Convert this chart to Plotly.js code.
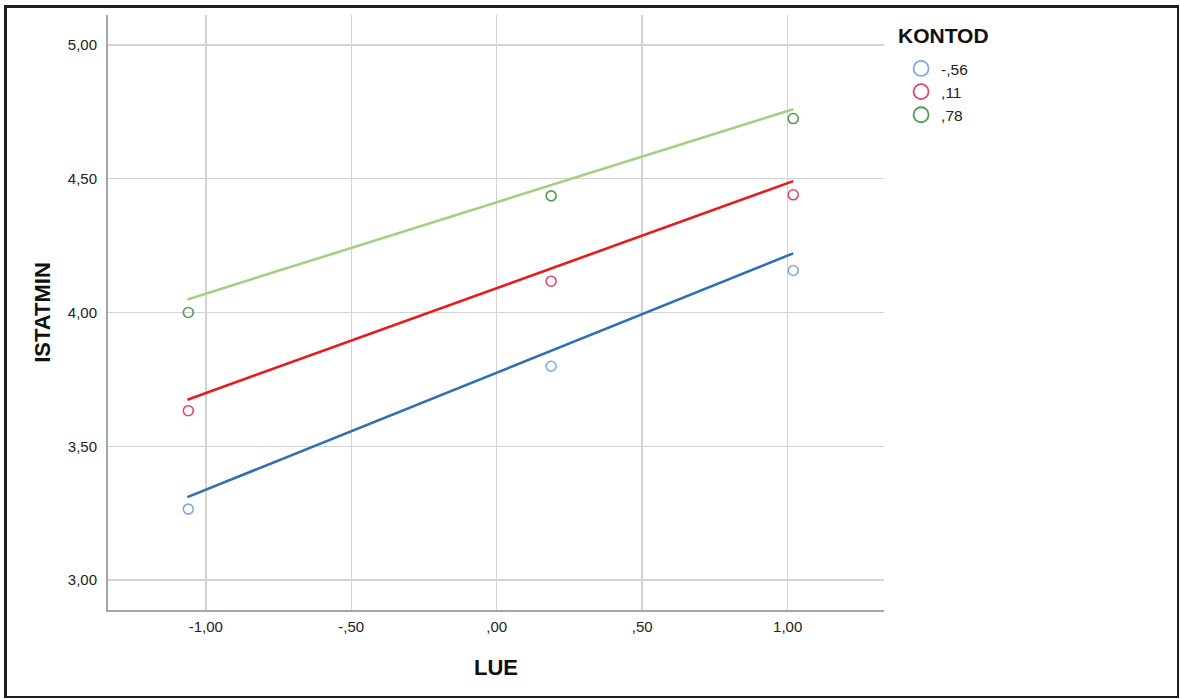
<!DOCTYPE html>
<html>
<head>
<meta charset="utf-8">
<script src="https://cdn.plot.ly/plotly-3.0.1.min.js"></script>
<style>
  html, body { margin: 0; padding: 0; background: #fff; }
  #wrap { position: relative; width: 1180px; height: 699px; }
  #chart { width: 1180px; height: 699px; }
  #frame { position: absolute; left: 4px; top: 5px; width: 1175px; height: 693px;
           box-sizing: border-box; border-style: solid; border-color: #1e1e1e;
           border-width: 3px 2px 2px 3px; pointer-events: none; }
</style>
</head>
<body>
<div id="wrap"><div id="chart"></div><div id="frame"></div></div>
<script>
// ---- data ----
var lueX = [-1.060, 0.187, 1.019];
var groupNames = ['-,56', ',11', ',78'];
var legendTitle = 'KONTOD';
var istatminLow = [3.265, 3.799, 4.157];
var istatminMid = [3.633, 4.117, 4.440];
var istatminHigh = [4.000, 4.436, 4.725];
var fitX = [-1.063, 1.019];
var fitLow = [3.310, 4.221];
var fitMid = [3.674, 4.491];
var fitHigh = [4.049, 4.760];
var xTickVals = [-1, -0.5, 0, 0.5, 1];
var xTickText = ['-1,00', '-,50', ',00', ',50', '1,00'];
var yTickVals = [3, 3.5, 4, 4.5, 5];
var yTickText = ['3,00', '3,50', '4,00', '4,50', '5,00'];

var pointColors = ['#7ea9e1', '#e2476a', '#4e9f4e'];
var lineColors = ['#2f6fb4', '#e8191f', '#a3d184'];
var pointSets = [istatminLow, istatminMid, istatminHigh];
var fitSets = [fitLow, fitMid, fitHigh];

var traces = [];
for (var i = 0; i < 3; i++) {
  traces.push({
    x: fitX, y: fitSets[i], type: 'scatter', mode: 'lines',
    line: {color: lineColors[i], width: 2.6}, showlegend: false, hoverinfo: 'skip'
  });
}
for (var i = 0; i < 3; i++) {
  traces.push({
    x: lueX, y: pointSets[i], type: 'scatter', mode: 'markers',
    marker: {symbol: 'circle-open', size: 10, color: pointColors[i], line: {width: 1.6, color: pointColors[i]}},
    showlegend: false, name: groupNames[i]
  });
}
// legend entries (larger symbols, as in the reference)
for (var i = 0; i < 3; i++) {
  traces.push({
    x: [null], y: [null], type: 'scatter', mode: 'markers', name: groupNames[i],
    marker: {symbol: 'circle-open', size: 15, color: pointColors[i], line: {width: 1.8, color: pointColors[i]}},
    showlegend: true
  });
}

var layout = {
  width: 1180, height: 699,
  margin: {l: 108, r: 296, t: 15, b: 89},
  paper_bgcolor: '#ffffff', plot_bgcolor: '#ffffff',
  font: {family: 'Liberation Sans, Arial, sans-serif', color: '#222', size: 15},
  showlegend: true,
  legend: {
    x: 1.022, xanchor: 'left', y: 0.938, yanchor: 'top',
    font: {size: 15.5, color: '#222'},
    tracegroupgap: 0, itemwidth: 30
  },
  annotations: [{
    text: '<b>' + legendTitle + '</b>', xref: 'paper', yref: 'paper',
    x: 1.0155, y: 0.965, xanchor: 'left', yanchor: 'middle', showarrow: false,
    font: {size: 21, color: '#111'}
  }],
  xaxis: {
    range: [-1.336, 1.331], tickmode: 'array', tickvals: xTickVals, ticktext: xTickText,
    showgrid: true, gridcolor: '#d3d3d3', gridwidth: 1.5,
    showline: true, linecolor: '#a6a6a6', linewidth: 2,
    zeroline: false, ticks: 'outside', ticklen: 2, tickcolor: 'rgba(0,0,0,0)',
    tickfont: {size: 15, color: '#222'},
    title: {text: '<b>LUE</b>', font: {size: 22, color: '#111'}, standoff: 26}
  },
  yaxis: {
    range: [2.888, 5.112], tickmode: 'array', tickvals: yTickVals, ticktext: yTickText,
    showgrid: true, gridcolor: '#d3d3d3', gridwidth: 1.5,
    showline: true, linecolor: '#a6a6a6', linewidth: 2,
    zeroline: false, ticks: 'outside', ticklen: 6, tickcolor: 'rgba(0,0,0,0)',
    tickfont: {size: 15, color: '#222'},
    title: {text: '<b>ISTATMIN</b>', font: {size: 22, color: '#111'}, standoff: 11}
  }
};

Plotly.newPlot('chart', traces, layout, {displayModeBar: false, staticPlot: true});
</script>
</body>
</html>
